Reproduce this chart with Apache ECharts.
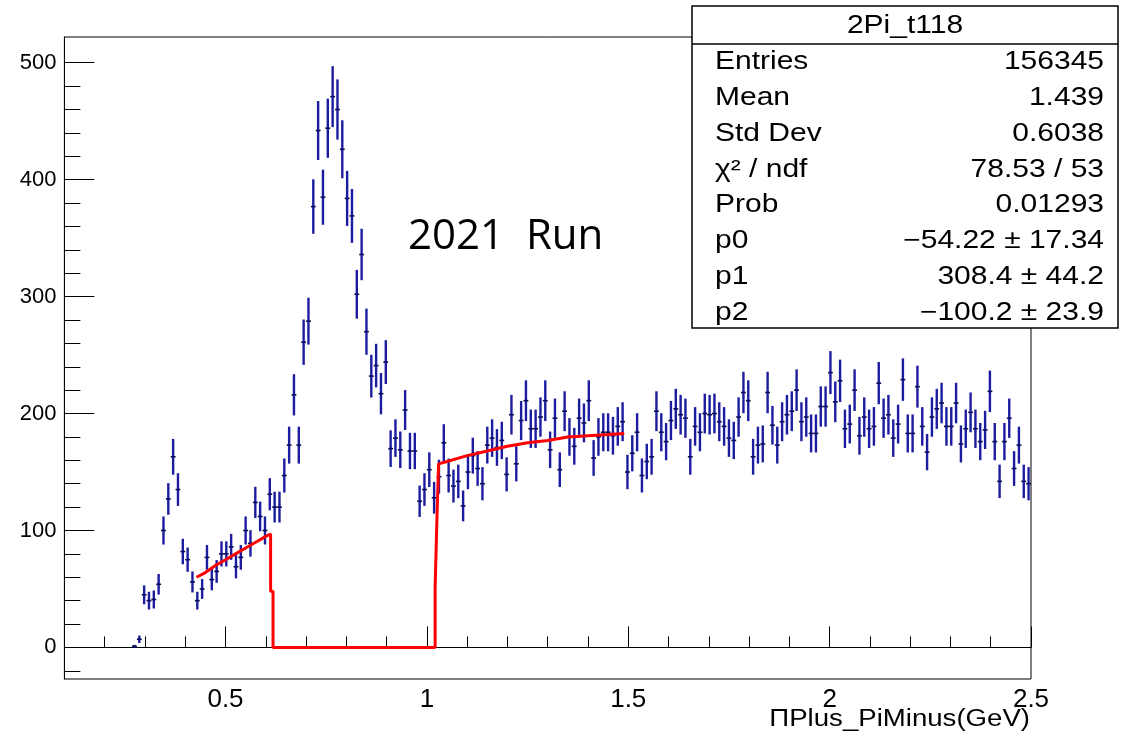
<!DOCTYPE html>
<html><head><meta charset="utf-8">
<script src="https://cdn.jsdelivr.net/npm/echarts@6/dist/echarts.min.js"></script>
<style>html,body{margin:0;padding:0;background:#fff}#c{width:1122px;height:741px}</style>
</head><body><div id="c"></div>
<script>
// Histogram binning (200 bins from 0.1 to 2.5); first non-empty bin index
const histMin = 0.1;
const binWidth = 0.012;
const firstBin = 14;
// Bin contents (bins 14..199)
const counts = [
  1, 7, 45, 40, 41, 54, 100, 127, 163, 135,
  82, 75, 56, 40, 50, 77, 58, 65, 80, 80,
  86, 69, 77, 100, 89, 124, 112, 100, 131, 120,
  120, 147, 173, 216, 173, 261, 279, 377, 442, 385,
  444, 471, 460, 426, 384, 369, 302, 336, 270, 232,
  241, 217, 244, 170, 179, 169, 203, 168, 168, 125,
  135, 152, 128, 146, 175, 147, 138, 142, 121, 150,
  164, 153, 140, 173, 179, 171, 177, 148, 199, 157,
  194, 211, 187, 187, 197, 211, 169, 196, 152, 202,
  180, 172, 196, 192, 211, 162, 180, 184, 184, 181,
  189, 193, 150, 166, 184, 147, 159, 163, 202, 184,
  176, 194, 204, 199, 196, 163, 189, 184, 200, 199,
  200, 193, 189, 179, 177, 197, 218, 211, 163, 173,
  174, 218, 190, 173, 193, 199, 202, 220, 193, 197,
  183, 183, 206, 206, 235, 210, 228, 187, 191, 220,
  181, 197, 187, 189, 226, 196, 199, 179, 191, 229,
  183, 183, 223, 189, 167, 197, 204, 209, 189, 189,
  209, 174, 187, 201, 187, 176, 186, 219, 176, 142,
  176, 196, 153, 173, 142, 140
];
// error bars: Poisson errors of the (weighted) counts, scale as seen in the picture
const errScale = 1.2;
// Fit curve (red)
const fitX = [0.428, 0.45, 0.475, 0.5, 0.525, 0.55, 0.575, 0.6, 0.612, 0.612, 0.618, 0.618,
              1.0205, 1.0205, 1.0245, 1.0245, 1.029, 1.029, 1.05, 1.1, 1.15, 1.2, 1.25, 1.3, 1.35, 1.4, 1.45, 1.49];
const fitY = [60, 64, 70, 75, 80, 85, 90, 95, 97, 48, 48, 0,
              0, 51, 51, 104, 104, 157, 159, 164, 168, 172, 175, 177, 180, 181, 182, 183];
// Axis ticks
const xMajorTicks = [0.5, 1, 1.5, 2, 2.5];
const xMinorTicks = [0.2, 0.3, 0.4, 0.6, 0.7, 0.8, 0.9, 1.1, 1.2, 1.3, 1.4, 1.6, 1.7, 1.8, 1.9, 2.1, 2.2, 2.3, 2.4];
const yMajorTicks = [0, 100, 200, 300, 400, 500];
const yMinorTicks = [-20, 20, 40, 60, 80, 120, 140, 160, 180, 220, 240, 260, 280, 320, 340, 360, 380, 420, 440, 460, 480];
// Stats box
const statsTitle = '2Pi_t118';
const statsLabels = ['Entries', 'Mean', 'Std Dev', 'χ² / ndf', 'Prob', 'p0', 'p1', 'p2'];
const statsValues = ['156345', '1.439', '0.6038', '78.53 / 53', '0.01293', '\u221254.22 \u00b1 17.34', '308.4 \u00b1 44.2', '\u2212100.2 \u00b1 23.9'];
const xTitle = '\u03A0Plus_PiMinus(GeV)';
const runLabel = '2021  Run';

const histData = counts.map((c, k) => [histMin + (firstBin + k + 0.5) * binWidth, c, Math.sqrt(c) * errScale]);
const fitData = fitX.map((x, i) => [x, fitY[i]]);

const ROOTFONT = '"Liberation Sans", Arial, Helvetica, sans-serif';
const barColor = '#1c1ca0';

const chart = echarts.init(document.getElementById('c'), null, {renderer: 'canvas'});

const graphic = [
  {type: 'rect', shape: {x: 692, y: 6, width: 426, height: 322}, style: {fill: '#fff', stroke: '#000', lineWidth: 1.5}, z: 100},
  {type: 'line', shape: {x1: 692, y1: 44, x2: 1118, y2: 44}, style: {stroke: '#000', lineWidth: 1.5}, z: 101},
  {type: 'text', x: 905, y: 26, scaleX: 1.2, z: 101,
   style: {text: statsTitle, font: '25px ' + ROOTFONT, fill: '#000', textAlign: 'center', textVerticalAlign: 'middle'}},
  {type: 'text', x: 408, y: 237, z: 50,
   style: {text: runLabel, font: '42px "Open Sans", sans-serif', fill: '#000', textAlign: 'left', textVerticalAlign: 'middle'}},
  {type: 'text', x: 1030, y: 720, scaleX: 1.2, z: 50,
   style: {text: xTitle, font: '23px ' + ROOTFONT, fill: '#000', textAlign: 'right', textVerticalAlign: 'middle'}}
];
statsLabels.forEach((lab, i) => {
  const y = 62 + i * 35.9;
  graphic.push({type: 'text', x: 715, y: y, scaleX: 1.2, z: 101,
    style: {text: lab, font: '25px ' + ROOTFONT, fill: '#000', textAlign: 'left', textVerticalAlign: 'middle'}});
  graphic.push({type: 'text', x: 1104, y: y, scaleX: 1.2, z: 101,
    style: {text: statsValues[i], font: '25px ' + ROOTFONT, fill: '#000', textAlign: 'right', textVerticalAlign: 'middle'}});
});

const option = {
  animation: false,
  backgroundColor: '#fff',
  grid: {left: 64.4, top: 37, right: 91, bottom: 62, show: true, borderColor: '#000', borderWidth: 1, backgroundColor: 'transparent'},
  xAxis: [
    {type: 'value', min: 0.1, max: 2.5, position: 'bottom',
     axisLine: {show: true, lineStyle: {color: '#000', width: 1}},
     axisTick: {show: true, inside: true, length: 21, customValues: xMajorTicks, lineStyle: {color: '#000', width: 1}},
     axisLabel: {show: true, customValues: xMajorTicks, margin: 8, color: '#000', fontSize: 26, fontFamily: 'Liberation Sans',
                 formatter: v => String(v)},
     splitLine: {show: false}},
    {type: 'value', min: 0.1, max: 2.5, position: 'bottom',
     axisLine: {show: false},
     axisTick: {show: true, inside: true, length: 11, customValues: xMinorTicks, lineStyle: {color: '#000', width: 1}},
     axisLabel: {show: false},
     splitLine: {show: false}}
  ],
  yAxis: [
    {type: 'value', min: -27, max: 522, position: 'left',
     axisLine: {show: true, lineStyle: {color: '#000', width: 1}},
     axisTick: {show: true, inside: true, length: 30, customValues: yMajorTicks, lineStyle: {color: '#000', width: 1}},
     axisLabel: {show: true, customValues: yMajorTicks, margin: 8, color: '#000', fontSize: 22, fontFamily: 'Liberation Sans'},
     splitLine: {show: false}},
    {type: 'value', min: -27, max: 522, position: 'left',
     axisLine: {show: false},
     axisTick: {show: true, inside: true, length: 16, customValues: yMinorTicks, lineStyle: {color: '#000', width: 1}},
     axisLabel: {show: false},
     splitLine: {show: false}}
  ],
  series: [
    {type: 'custom', xAxisIndex: 0, yAxisIndex: 0, z: 3,
     data: histData,
     renderItem: function (params, api) {
       const x = api.value(0), y = api.value(1), e = api.value(2);
       const top = api.coord([x, y + e]);
       const bot = api.coord([x, y - e]);
       const l = api.coord([x - binWidth / 2, y]);
       const r = api.coord([x + binWidth / 2, y]);
       return {type: 'group', children: [
         {type: 'line', shape: {x1: top[0], y1: top[1], x2: bot[0], y2: bot[1]}, style: {stroke: barColor, lineWidth: 2.4}},
         {type: 'line', shape: {x1: l[0], y1: l[1], x2: r[0], y2: r[1]}, style: {stroke: '#0a0a5a', lineWidth: 1.6}}
       ]};
     }},
    {type: 'line', xAxisIndex: 0, yAxisIndex: 0, z: 5, data: fitData, showSymbol: false, symbol: 'none',
     lineStyle: {color: '#ff0000', width: 3}, silent: true}
  ],
  graphic: graphic
};
chart.setOption(option);
</script>
</body></html>
